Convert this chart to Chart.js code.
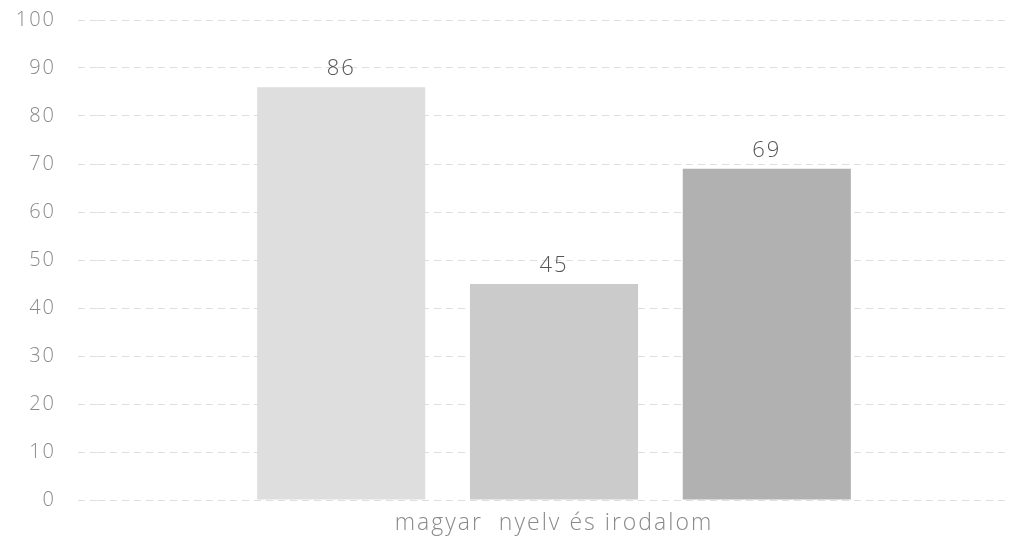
<!DOCTYPE html>
<html>
<head>
<meta charset="utf-8">
<script src="https://cdn.jsdelivr.net/npm/chart.js@4/dist/chart.umd.min.js"></script>
<style>
  html, body { margin: 0; padding: 0; background: #fff; }
  #wrap { width: 1022px; height: 546px; position: relative; }
</style>
</head>
<body>
<div id="wrap"><canvas id="chart"></canvas></div>
<script>
const categories = ['magyar  nyelv és irodalom'];
const seriesNames = ['A', 'B', 'C'];
const seriesValues = [[86], [45], [69]];
const seriesColors = ['#dedede', '#cbcbcb', '#b1b1b1'];
const yTicks = [0, 10, 20, 30, 40, 50, 60, 70, 80, 90, 100];

const fontFamily = '"Open Sans", Lato, sans-serif';

// wide, airy lettering like the original
const spacing = {
    id: 'spacing',
    beforeDraw(chart) {
        chart.ctx.letterSpacing = '2px';
    }
};

// value labels above each bar
const valueLabels = {
    id: 'valueLabels',
    afterDatasetsDraw(chart) {
        const ctx = chart.ctx;
        ctx.save();
        ctx.font = '300 22px ' + fontFamily;
        ctx.fillStyle = '#555';
        ctx.textAlign = 'center';
        ctx.textBaseline = 'middle';
        chart.data.datasets.forEach((ds, i) => {
            chart.getDatasetMeta(i).data.forEach((bar, j) => {
                ctx.fillText(ds.data[j], bar.x, bar.y - 18);
            });
        });
        ctx.restore();
    }
};

document.addEventListener('DOMContentLoaded', function() {
    const ctx = document.getElementById('chart').getContext('2d');
    new Chart(ctx, {
        type: 'bar',
        data: {
            labels: categories,
            datasets: seriesNames.map((name, i) => ({
                label: name,
                data: seriesValues[i],
                backgroundColor: seriesColors[i],
                barPercentage: 0.79,
                categoryPercentage: 0.7
            }))
        },
        options: {
            responsive: true,
            maintainAspectRatio: false,
            animation: false,
            layout: { padding: { top: 20, right: 12, left: 0, bottom: 0 } },
            plugins: {
                legend: { display: false },
                tooltip: { enabled: false }
            },
            scales: {
                x: {
                    grid: { display: false, drawTicks: false },
                    border: { display: false },
                    ticks: {
                        color: '#8a8a8a',
                        padding: 10,
                        font: { family: fontFamily, size: 23, weight: 300 }
                    },
                    afterFit: s => { s.height = 46; }
                },
                y: {
                    min: 0,
                    max: 100,
                    afterBuildTicks: s => { s.ticks = yTicks.map(v => ({ value: v })); },
                    grid: {
                        color: '#dedede',
                        tickLength: 20,
                        tickColor: '#dedede',
                        tickBorderDash: [7, 5]
                    },
                    border: { display: false, dash: [7, 5] },
                    ticks: {
                        color: '#8a8a8a',
                        padding: 22,
                        font: { family: fontFamily, size: 20, weight: 300 }
                    },
                    afterFit: s => {
                        s.width = 98;
                        s.paddingTop = 0;
                        s.paddingBottom = 0;
                    }
                }
            }
        },
        plugins: [spacing, valueLabels]
    });
});
</script>
</body>
</html>
